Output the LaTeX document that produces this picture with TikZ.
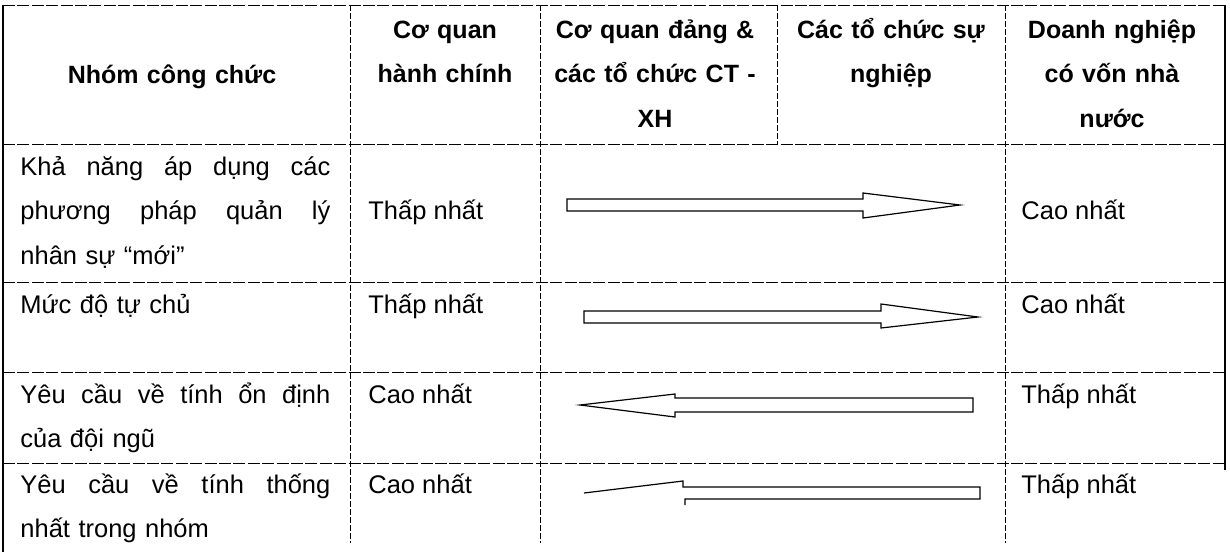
\documentclass[tikz,border=0pt]{standalone}
\usepackage{fontspec}
\setmainfont{Liberation Sans}

\newcommand{\fullline}[1]{\makebox[155pt][s]{#1}}

\begin{document}
\begin{tikzpicture}[x=0.5pt, y=-0.5pt]
\tikzstyle{hrule}=[line width=0.5pt, dash pattern=on 6pt off 1.2pt]
\tikzstyle{vrule}=[line width=0.5pt, dash pattern=on 3pt off 1pt]
\tikzstyle{border}=[line width=0.6pt]
\tikzstyle{hdr}=[anchor=base, inner sep=0pt, text width=118pt, align=center, font=\fontsize{12.5}{22.25}\selectfont\bfseries]
\tikzstyle{txt}=[anchor=base west, inner sep=0pt, text width=155pt, align=left, font=\fontsize{12.75}{22.25}\selectfont]
\tikzstyle{val}=[anchor=base west, inner sep=0pt, font=\fontsize{12.75}{22.25}\selectfont]
\tikzstyle{blockarr}=[line width=0.6pt, line join=miter]
\useasboundingbox (0,0) rectangle (1230,552);

% grid
\draw[hrule] (3,5) -- (1225,5);
\draw[hrule] (3,144) -- (1225,144);
\draw[hrule] (3,282) -- (1225,282);
\draw[hrule] (3,372) -- (1225,372);
\draw[hrule] (3,463) -- (1225,463);
\draw[border] (3,5) -- (3,552);
\draw[line width=1.2pt] (1225,5) -- (1225,470);
\draw[vrule] (350,5) -- (350,543);
\draw[vrule] (540,5) -- (540,543);
\draw[vrule] (777,5) -- (777,144);
\draw[vrule] (1005,5) -- (1005,543);

% header
\node[hdr] (hA) at (172,83) {Nhóm công chức};
\node[hdr] (hB) at (445,38) {Cơ quan\\hành chính};
\node[hdr] (hC) at (655,38) {Cơ quan đảng \&\\các tổ chức CT -\\XH};
\node[hdr] (hD) at (891,38) {Các tổ chức sự\\nghiệp};
\node[hdr] (hE) at (1112,38) {Doanh nghiệp\\có vốn nhà\\nước};

% first column
\node[txt] (r1A) at (20,175) {\fullline{Khả\hfill năng\hfill áp\hfill dụng\hfill các}\\\fullline{phương\hfill pháp\hfill quản\hfill lý}\\nhân sự “mới”};
\node[txt] (r2A) at (20,313) {Mức độ tự chủ};
\node[txt] (r3A) at (20,403) {\fullline{Yêu\hfill cầu\hfill về\hfill tính\hfill ổn\hfill định}\\của đội ngũ};
\node[txt] (r4A) at (20,493) {\fullline{Yêu\hfill cầu\hfill về\hfill tính\hfill thống}\\nhất trong nhóm};

% values
\node[val] (r1B) at (368,219.5) {Thấp nhất};
\node[val] (r2B) at (368,313) {Thấp nhất};
\node[val] (r3B) at (368,403) {Cao nhất};
\node[val] (r4B) at (368,493) {Cao nhất};
\node[val] (r1E) at (1021,219.5) {Cao nhất};
\node[val] (r2E) at (1021,313) {Cao nhất};
\node[val] (r3E) at (1021,403) {Thấp nhất};
\node[val] (r4E) at (1021,493) {Thấp nhất};

% arrows
\draw[blockarr] (567,199) -- (863,199) -- (863,193) -- (960,205) -- (863,218) -- (863,211) -- (567,211) -- cycle;
\draw[blockarr] (584,311) -- (881,311) -- (881,304) -- (978,317) -- (881,328) -- (881,323) -- (584,323) -- cycle;
\draw[blockarr] (973,398) -- (675,398) -- (675,394) -- (580,405) -- (675,417) -- (675,412) -- (973,412) -- cycle;
\draw[blockarr] (685,505) -- (685,499) -- (980,499) -- (980,487) -- (683,487) -- (683,481) -- (584,493);
\end{tikzpicture}
\end{document}
